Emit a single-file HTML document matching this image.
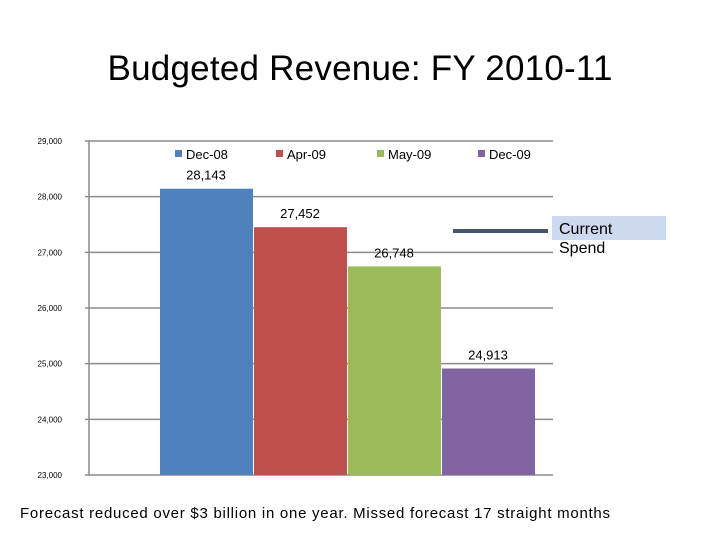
<!DOCTYPE html>
<html><head><meta charset="utf-8"><style>
body{margin:0;background:#fff;width:720px;height:540px;overflow:hidden;font-family:"Liberation Sans",sans-serif}
</style></head><body>
<svg id="c" width="720" height="540">
<text x="360" y="80" text-anchor="middle" font-size="35" fill="#000" textLength="505">Budgeted Revenue: FY 2010-11</text>
<text x="20" y="518" font-size="15" fill="#000" textLength="590">Forecast reduced over $3 billion in one year.  Missed forecast 17 straight months</text>
<g id="plot"></g>
</svg>
<script>
const categories=["Dec-08","Apr-09","May-09","Dec-09"];
const values=[28143,27452,26748,24913];
const valueLabels=["28,143","27,452","26,748","24,913"];
const ticks=[23000,24000,25000,26000,27000,28000,29000];
const tickLabels=["23,000","24,000","25,000","26,000","27,000","28,000","29,000"];
const colors=["#4f81bd","#c0504d","#9bbb59","#8064a2"];
const NS="http://www.w3.org/2000/svg";
const g=document.getElementById('plot');
const L=89,R=553,T=141,B=475,ymin=23000,ymax=29000;
const y=v=>B-(v-ymin)/(ymax-ymin)*(B-T);
const bx=i=>160+i*94;
function mk(t,a,p){const e=document.createElementNS(NS,t);for(const k in a)e.setAttribute(k,a[k]);(p||g).appendChild(e);return e;}
ticks.forEach((t,i)=>{
 const l=mk('line',{x1:L-4,x2:R,y1:y(t),y2:y(t),stroke:'#8c8c8c','stroke-width':1.5});
 
 
 const tx=mk('text',{x:62,y:y(t)+3,'text-anchor':'end','font-size':8,fill:'#000'});
 tx.textContent=tickLabels[i];
 
 
});
const ax=mk('line',{x1:L,x2:L,y1:T,y2:B,stroke:'#8c8c8c','stroke-width':1.5});


values.forEach((v,i)=>{
 const r=mk('rect',{x:bx(i),y:y(v),width:93,height:B-y(v),fill:colors[i]});
 
 
 const t=mk('text',{x:bx(i)+46,y:y(v)-9,'text-anchor':'middle','font-size':13,fill:'#000'});
 t.textContent=valueLabels[i];
 
 
 const lx=175+i*101;
 const s=mk('rect',{x:lx,y:150,width:7,height:7,fill:colors[i]});
 
 
 const lt=mk('text',{x:lx+11,y:159,'font-size':13,fill:'#000'});
 lt.textContent=categories[i];
 
 
});
const cl=mk('line',{x1:453,x2:548,y1:231,y2:231,stroke:'#44546a','stroke-width':4});


const bg=mk('rect',{x:552,y:216,width:114,height:24,fill:'#cdd9ee'});


const c1=mk('text',{x:559,y:234,'font-size':16,fill:'#000'});c1.textContent='Current';


const c2=mk('text',{x:559,y:253,'font-size':16,fill:'#000'});c2.textContent='Spend';


</script>
</body></html>
